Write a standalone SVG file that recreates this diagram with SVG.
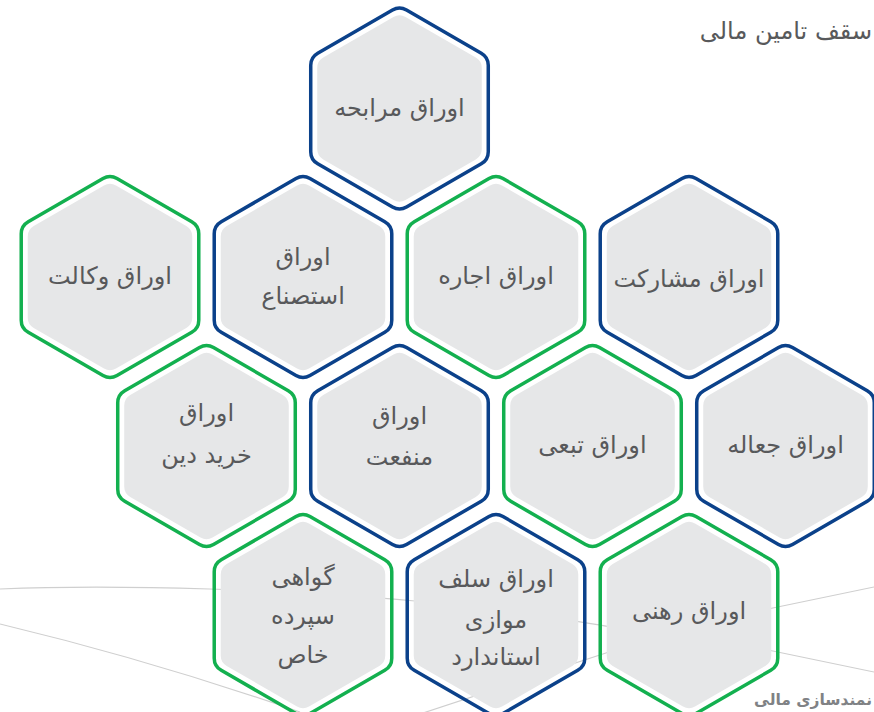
<svg xmlns="http://www.w3.org/2000/svg" xmlns:xlink="http://www.w3.org/1999/xlink" width="874" height="712" viewBox="0 0 874 712">
<defs>
<style>
.bg{fill:none;stroke:#cfcfcf;stroke-width:1.2}
.ob{fill:none;stroke:#0b418a;stroke-width:3.5}
.og{fill:none;stroke:#13b04f;stroke-width:3.5}
.in{fill:#e6e7e8}
.t{font-family:"DejaVu Sans","Noto Sans",sans-serif;font-size:24px;fill:#58595b;text-anchor:middle}
.hd{font-family:"DejaVu Sans","Noto Sans",sans-serif;font-size:24px;fill:#58595b;text-anchor:end}
.ft{font-family:"DejaVu Sans","Noto Sans",sans-serif;font-size:15.5px;font-weight:bold;fill:#808285;text-anchor:end}
</style>
<path id="ho" d="M7,-98.46 L81.77,-55.29 A14 14 0 0 1 88.77,-43.17 L88.77,43.17 A14 14 0 0 1 81.77,55.29 L7,98.46 A14 14 0 0 1 -7,98.46 L-81.77,55.29 A14 14 0 0 1 -88.77,43.17 L-88.77,-43.17 A14 14 0 0 1 -81.77,-55.29 L-7,-98.46 A14 14 0 0 1 7,-98.46 Z"/>
<path id="hi" d="M6,-91.54 L76.27,-50.96 A12 12 0 0 1 82.27,-40.57 L82.27,40.57 A12 12 0 0 1 76.27,50.96 L6,91.54 A12 12 0 0 1 -6,91.54 L-76.27,50.96 A12 12 0 0 1 -82.27,40.57 L-82.27,-40.57 A12 12 0 0 1 -76.27,-50.96 L-6,-91.54 A12 12 0 0 1 6,-91.54 Z"/>
</defs>
<rect width="874" height="712" fill="#ffffff"/>
<g id="connectors">
<path class="bg" d="M0,589 C120,584 300,590 415,601 S560,619 612,627"/>
<path class="bg" d="M0,624 Q150,660 300,712"/>
<path class="bg" d="M420,714 L612,651"/>
<path class="bg" d="M768,650 L874,672"/>
<path class="bg" d="M768,609 L874,587"/>
</g>
<text class="hd" x="872" y="39">سقف تامین مالی</text>
<g id="n-morabehe" transform="translate(399.5,108.5)"><use href="#hi" class="in"/><use href="#ho" class="ob"/><text class="t" y="7">اوراق مرابحه</text></g>
<g id="n-vekalat" transform="translate(110,277)"><use href="#hi" class="in"/><use href="#ho" class="og"/><text class="t" y="7">اوراق وکالت</text></g>
<g id="n-estesna" transform="translate(303,277)"><use href="#hi" class="in"/><use href="#ho" class="ob"/><text class="t" y="-12">اوراق</text><text class="t" y="27">استصناع</text></g>
<g id="n-ejare" transform="translate(496,277)"><use href="#hi" class="in"/><use href="#ho" class="og"/><text class="t" y="7">اوراق اجاره</text></g>
<g id="n-mosharekat" transform="translate(689,277)"><use href="#hi" class="in"/><use href="#ho" class="ob"/><text class="t" y="10">اوراق مشارکت</text></g>
<g id="n-kharid-dein" transform="translate(206.5,446)"><use href="#hi" class="in"/><use href="#ho" class="og"/><text class="t" y="-25">اوراق</text><text class="t" y="17">خرید دین</text></g>
<g id="n-manfaat" transform="translate(399.5,446)"><use href="#hi" class="in"/><use href="#ho" class="ob"/><text class="t" y="-22">اوراق</text><text class="t" y="19">منفعت</text></g>
<g id="n-tabaee" transform="translate(592.5,446)"><use href="#hi" class="in"/><use href="#ho" class="og"/><text class="t" y="7">اوراق تبعی</text></g>
<g id="n-jeale" transform="translate(785.5,446)"><use href="#hi" class="in"/><use href="#ho" class="ob"/><text class="t" y="7">اوراق جعاله</text></g>
<g id="n-govahi" transform="translate(303,615)"><use href="#hi" class="in"/><use href="#ho" class="og"/><text class="t" y="-30">گواهی</text><text class="t" y="9">سپرده</text><text class="t" y="48">خاص</text></g>
<g id="n-salaf" transform="translate(496,615)"><use href="#hi" class="in"/><use href="#ho" class="ob"/><text class="t" y="-28">اوراق سلف</text><text class="t" y="13">موازی</text><text class="t" y="50">استاندارد</text></g>
<g id="n-rahni" transform="translate(689,615)"><use href="#hi" class="in"/><use href="#ho" class="og"/><text class="t" y="4">اوراق رهنی</text></g>
<text class="ft" x="872" y="705">نمندسازی مالی</text>
</svg>
